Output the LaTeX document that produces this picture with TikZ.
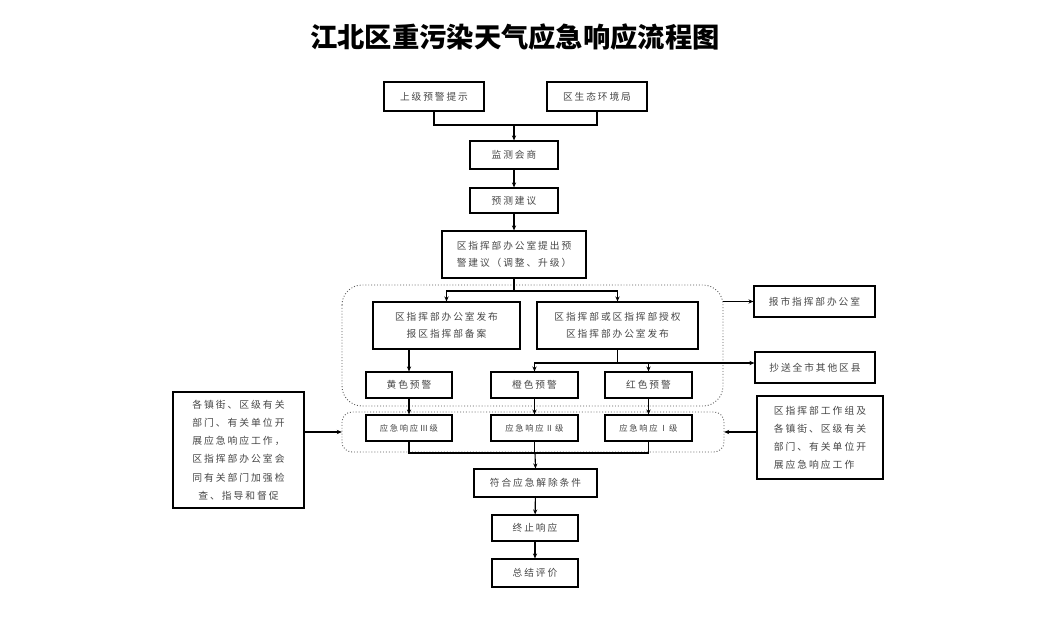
\documentclass[tikz,border=0pt]{standalone}
\usepackage{fontspec}
\newfontfamily\cjk[LetterSpace=20]{Noto Sans CJK SC}
\newfontfamily\cjktitle{Noto Sans CJK SC}
\usetikzlibrary{arrows.meta,calc}
\begin{document}
\begin{tikzpicture}[x=1pt,y=-1pt,
  box/.style={draw=black,line width=1.1pt,rectangle,inner sep=0pt,align=center,
    text=black!72,font=\cjk\fontsize{9.7}{17}\selectfont},
  lvl/.style={box,font=\cjk\fontsize{8.3}{12}\selectfont},
  grp/.style={draw=black!65,dotted,line width=0.9pt},
  conn/.style={draw=black,line width=1.1pt},
  arr/.style={conn,-{Stealth[length=5pt,width=4.2pt]}}]
\useasboundingbox[fill=white] (0,0) rectangle (1044,618);

% title
\node[font=\cjktitle\bfseries\fontsize{27.3}{30}\selectfont,text=black] (title) at (515,37) {江北区重污染天气应急响应流程图};

% groups (drawn first)
\draw[grp,rounded corners=20pt] (342,285) rectangle (723,406);
\node[inner sep=0pt,minimum width=381pt,minimum height=121pt] (g1) at (532.5,345.5) {};
\draw[grp,rounded corners=10pt] (342,412) rectangle (724,452);
\node[inner sep=0pt,minimum width=382pt,minimum height=40pt] (g2) at (533,432) {};

% nodes
\node[box,minimum width=100pt,minimum height=29pt] (up) at (434,96.5) {上级预警提示};
\node[box,minimum width=100pt,minimum height=29pt] (eco) at (597,96.5) {区生态环境局};
\node[box,minimum width=88pt,minimum height=28pt] (jc) at (514,155) {监测会商};
\node[box,minimum width=88pt,minimum height=25pt] (yc) at (514,200.5) {预测建议};
\node[box,minimum width=144pt,minimum height=47pt] (tc) at (514,254.5) {区指挥部办公室提出预\\警建议（调整、升级）};
\node[box,minimum width=147pt,minimum height=47pt] (A) at (446.5,325.5) {区指挥部办公室发布\\报区指挥部备案};
\node[box,minimum width=161pt,minimum height=47pt] (B) at (617.5,325.5) {区指挥部或区指挥部授权\\区指挥部办公室发布};
\node[box,minimum width=121pt,minimum height=31pt] (bs) at (814.5,301.5) {报市指挥部办公室};
\node[box,minimum width=120pt,minimum height=31pt] (cs) at (815,367.5) {抄送全市其他区县};
\node[box,minimum width=86pt,minimum height=26pt] (yellow) at (409,385) {黄色预警};
\node[box,minimum width=87pt,minimum height=26pt] (orange) at (534.5,385) {橙色预警};
\node[box,minimum width=87pt,minimum height=26pt] (red) at (648.5,385) {红色预警};
\node[lvl,minimum width=86pt,minimum height=26pt] (l3) at (409,428) {应急响应Ⅲ级};
\node[lvl,minimum width=87pt,minimum height=26pt] (l2) at (534.5,428) {应急响应Ⅱ级};
\node[lvl,minimum width=87pt,minimum height=26pt] (l1) at (648.5,428) {应急响应Ⅰ级};
\node[box,minimum width=131pt,minimum height=116pt,font=\cjk\fontsize{9.8}{18.3}\selectfont] (left) at (238.5,450)
  {各镇街、区级有关\\部门、有关单位开\\展应急响应工作，\\区指挥部办公室会\\同有关部门加强检\\查、指导和督促};
\node[box,minimum width=126pt,minimum height=83pt,align=left,font=\cjk\fontsize{9.8}{18}\selectfont] (right) at (820,437.5)
  {区指挥部工作组及\\各镇街、区级有关\\部门、有关单位开\\展应急响应工作};
\node[box,minimum width=123pt,minimum height=28pt] (fh) at (535.5,483) {符合应急解除条件};
\node[box,minimum width=86pt,minimum height=26pt] (zz) at (535,528) {终止响应};
\node[box,minimum width=86pt,minimum height=28pt] (zj) at (535,573) {总结评价};

% junction coordinates
\coordinate (j1) at (514,125);
\coordinate (j2) at (514,291);
\coordinate (j3) at (617.5,363);
\coordinate (j4) at (535,453);

% connectors
\draw[conn] (up.south) |- (j1) -| (eco.south);
\draw[arr] (j1) -- (jc.north);
\draw[arr] (jc) -- (yc);
\draw[arr] (yc) -- (tc);
\draw[conn] (tc.south) -- (j2);
\draw[arr] (j2) -| (A.north);
\draw[arr] (j2) -| (B.north);
\draw[arr] (A.south -| yellow.north) -- (yellow.north);
\draw[conn] (B.south) -- (j3);
\draw[arr] (j3) -| (orange.north);
\draw[arr] (j3) -| (red.north);
\draw[arr] (j3) -- (j3 -| cs.west);
\draw[arr] (g1.east |- bs.west) -- (bs.west);
\draw[arr] (yellow) -- (l3);
\draw[arr] (orange) -- (l2);
\draw[arr] (red) -- (l1);
\draw[conn] (l3.south) |- (j4) -| (l1.south);
\draw[conn] (l2.south) -- (l2.south |- j4);
\draw[arr] (j4) -- (fh.north);
\draw[arr] (g2.west -| left.east) -- (g2.west);
\draw[arr] (g2.east -| right.west) -- (g2.east);
\draw[arr] (fh) -- (zz);
\draw[arr] (zz) -- (zj);
\end{tikzpicture}
\end{document}
